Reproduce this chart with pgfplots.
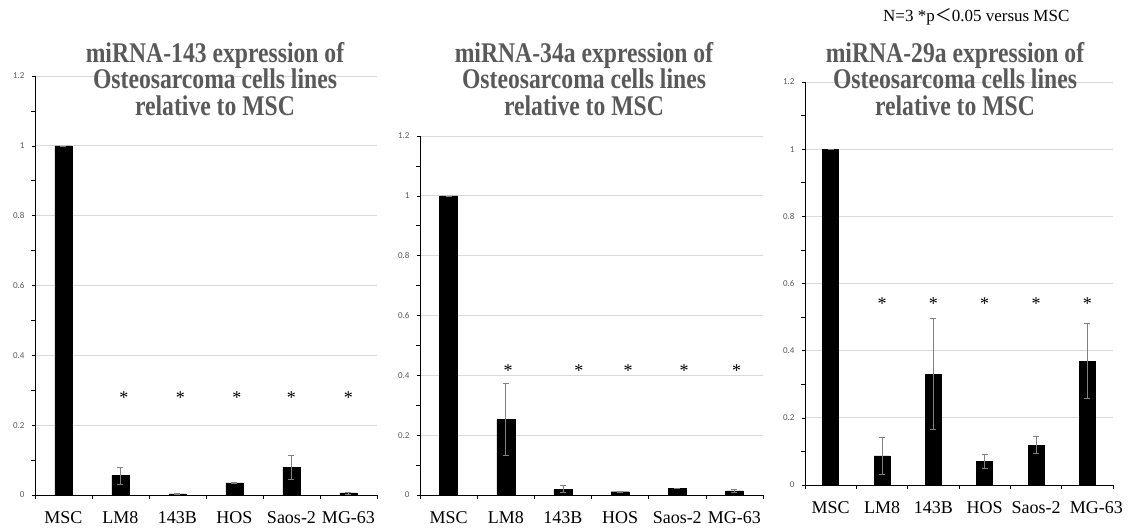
\documentclass[border=0pt]{standalone}
\usepackage{fontspec}
\setmainfont{Liberation Serif}
\newfontfamily\tickfont{Carlito}
\newfontfamily\titlefont[FakeStretch=0.83]{Liberation Serif}
\newfontfamily\cjk{Noto Sans CJK JP}
\usepackage{pgfplots}
\pgfplotsset{compat=1.18}
\definecolor{titlegray}{HTML}{595959}
\definecolor{gridgray}{HTML}{D9D9D9}
\definecolor{errgray}{HTML}{808080}

% relative expression, x = cell line index, e = error (SD)
\pgfplotstableread{
x y e
0 1.000 0
1 0.056 0.024
2 0.003 0.001
3 0.035 0.002
4 0.080 0.035
5 0.006 0.003
}\dataA
\pgfplotstableread{
x y e
0 1.000 0
1 0.253 0.120
2 0.020 0.011
3 0.011 0.003
4 0.022 0.001
5 0.014 0.004
}\dataB
\pgfplotstableread{
x y e
0 1.000 0
1 0.087 0.055
2 0.330 0.165
3 0.070 0.021
4 0.119 0.025
5 0.369 0.112
}\dataC

\pgfplotsset{
  panel/.style={
    scale only axis, anchor=south west, ybar,
    ymin=0, ymax=1.2, xmin=-0.5, xmax=5.5,
    ytick={0,0.2,0.4,0.6,0.8,1,1.2},
    minor ytick={0.1,0.3,0.5,0.7,0.9,1.1},
    ymajorgrids, major grid style={gridgray, line width=0.8pt},
    axis x line*=bottom, axis y line*=left,
    axis line style={black, line width=0.6pt},
    xtick={0,...,5}, xticklabels={MSC,LM8,143B,HOS,Saos-2,MG-63},
    minor xtick={-0.5,0.5,1.5,2.5,3.5,4.5,5.5},
    tick align=outside,
    major tick length=3pt, minor tick length=4pt,
    major x tick style={draw=none},
    tick style={black, line width=0.6pt},
    /pgf/number format/assume math mode=true,
    yticklabel style={font=\tickfont\fontsize{9}{10}\selectfont, text=titlegray, xshift=-4pt},
    xticklabel style={font=\fontsize{18}{20}\selectfont, yshift=-10pt},
  },
  bars/.style={
    fill=black, draw=black,
    error bars/.cd, y dir=both, y explicit,
    error bar style={errgray, line width=0.6pt},
    error mark options={rotate=90, mark size=3pt, errgray, line width=0.6pt},
  },
}

\tikzset{paneltitle/.style={anchor=north, align=center, inner sep=0, text=titlegray,
  font=\titlefont\bfseries\fontsize{28.5}{26.7}\selectfont}}

\begin{document}
\begin{tikzpicture}[x=1pt, y=1pt]
\path[use as bounding box] (0,0) rectangle (1133,531);

\begin{axis}[panel, at={(35pt,36pt)}, width=342pt, height=419pt, bar width=17pt]
\addplot[bars] table[x=x, y=y, y error=e] {\dataA};
\pgfplotsinvokeforeach{1.06,2.05,3.04,4,5}{\node[font=\fontsize{18}{20}\selectfont] at (axis cs:#1,0.28) {*};}
\end{axis}

\begin{axis}[panel, at={(420pt,36pt)}, width=343pt, height=359pt, bar width=18pt]
\addplot[bars] table[x=x, y=y, y error=e] {\dataB};
\pgfplotsinvokeforeach{1.04,2.28,3.14,4.12,5.04}{\node[font=\fontsize{18}{20}\selectfont] at (axis cs:#1,0.415) {*};}
\end{axis}

\begin{axis}[panel, at={(805pt,46pt)}, width=308pt, height=403pt, bar width=16pt,
  xticklabels={MSC,LM8,143B,HOS,Saos-2,\hspace*{18pt}\raisebox{-3pt}{MG-63}}]
\addplot[bars] table[x=x, y=y, y error=e] {\dataC};
\pgfplotsinvokeforeach{1,...,5}{\node[font=\fontsize{18}{20}\selectfont] at (axis cs:#1,0.54) {*};}
\end{axis}

\node[paneltitle] at (215,489) {miRNA-143 expression of\\Osteosarcoma cells lines\\relative to MSC};
\node[paneltitle] at (584,489) {miRNA-34a expression of\\Osteosarcoma cells lines\\relative to MSC};
\node[paneltitle] at (955,489) {miRNA-29a expression of\\Osteosarcoma cells lines\\relative to MSC};

\node[anchor=base west, inner sep=0, font=\fontsize{17}{20}\selectfont] at (883,509.3)
  {N=3 *p{\cjk ＜}0.05 versus MSC};
\end{tikzpicture}
\end{document}
